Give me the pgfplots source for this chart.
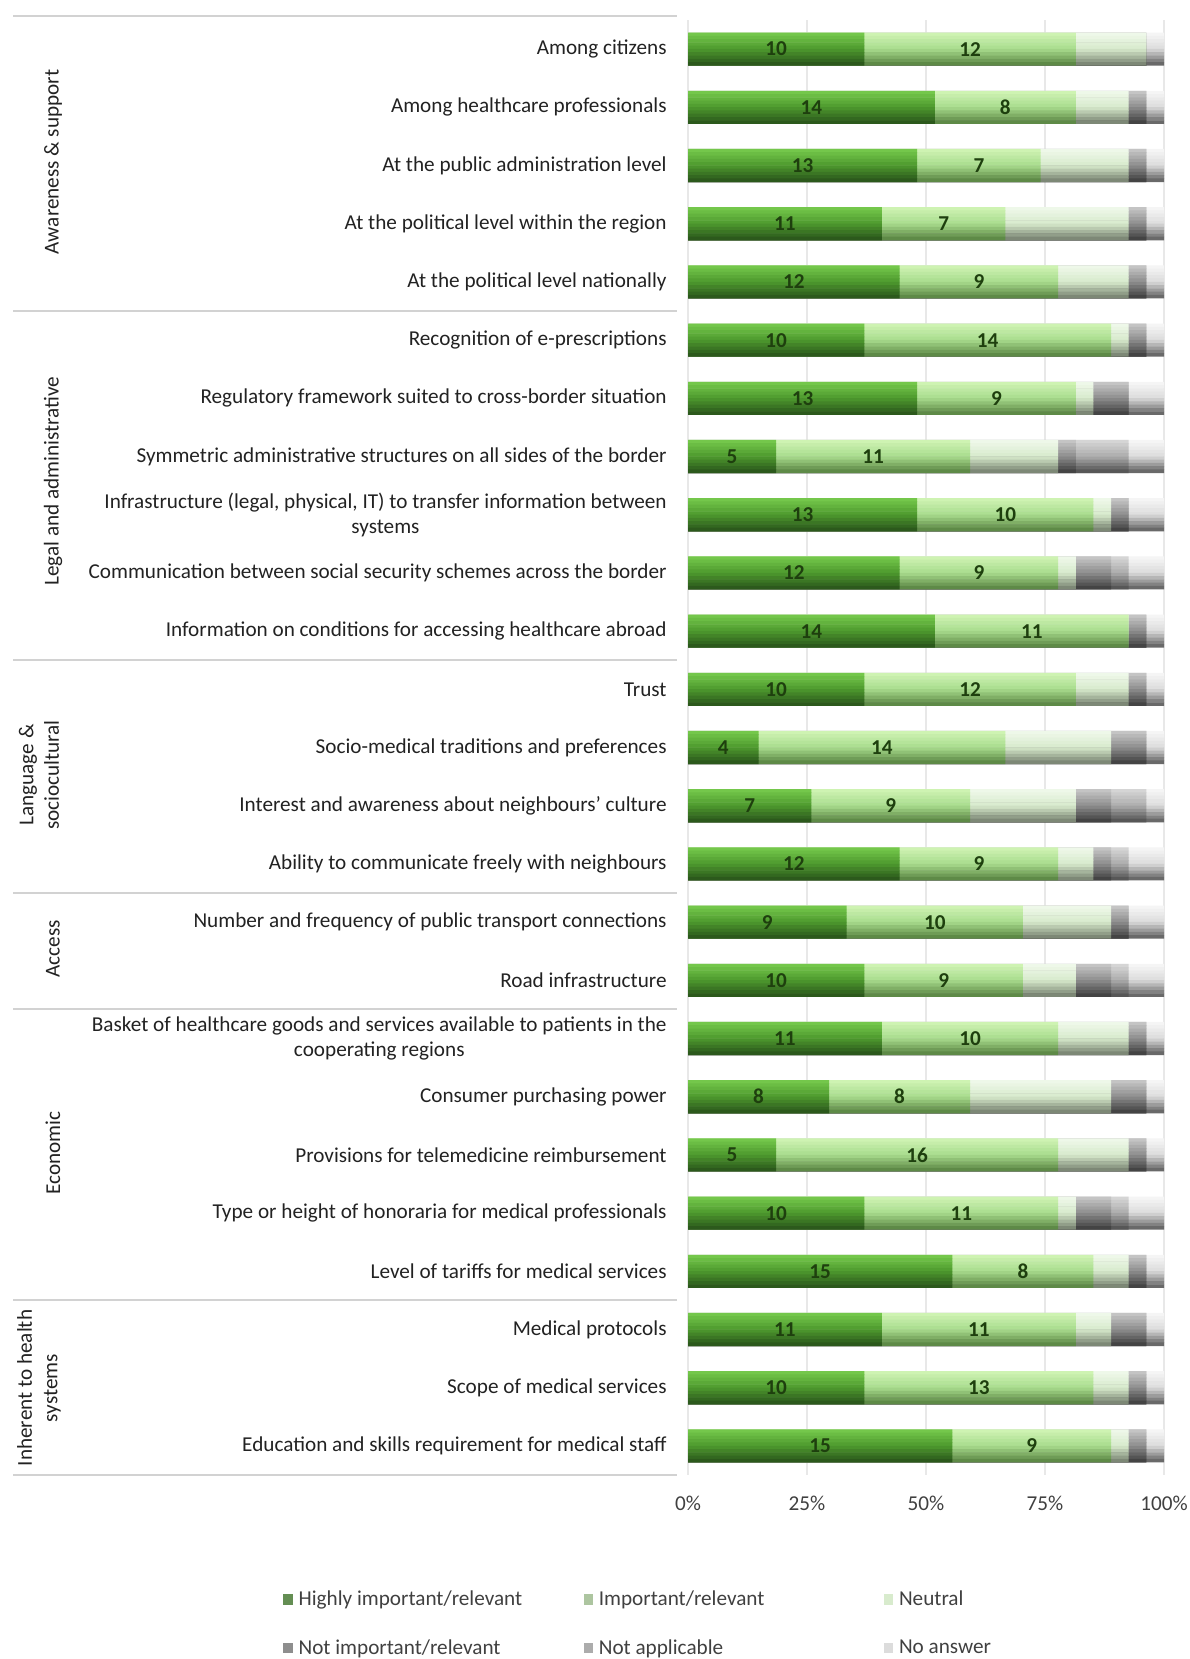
\documentclass[border=0pt]{standalone}
\usepackage{pgfplots}
\usepackage{pgfplotstable}
\pgfplotsset{compat=1.18}
\usepackage{fontspec}
\setmainfont{Carlito}

\definecolor{hiT}{HTML}{78CC4E}\definecolor{hiM}{HTML}{4E9A2E}\definecolor{hiB}{HTML}{28521A}
\definecolor{imT}{HTML}{D2F5B6}\definecolor{imM}{HTML}{A9DC8E}\definecolor{imB}{HTML}{56813F}
\definecolor{neT}{HTML}{F1FAEC}\definecolor{neM}{HTML}{D8EBCD}\definecolor{neB}{HTML}{737D6C}
\definecolor{niT}{HTML}{CACACA}\definecolor{niM}{HTML}{8E8E8E}\definecolor{niB}{HTML}{3C3C3C}
\definecolor{naT}{HTML}{DADADA}\definecolor{naM}{HTML}{ACACAC}\definecolor{naB}{HTML}{4E4E4E}
\definecolor{nrT}{HTML}{F8F8F8}\definecolor{nrM}{HTML}{DCDCDC}\definecolor{nrB}{HTML}{5C5C5C}
\definecolor{numgreen}{HTML}{1E3F0E}
\definecolor{labgray}{HTML}{222222}
\definecolor{tickgray}{HTML}{404040}

\pgfplotstableread{
row h i n ni na nr
0 10 12 4 0 0 1
1 14 8 3 1 0 1
2 13 7 5 1 0 1
3 11 7 7 1 0 1
4 12 9 4 1 0 1
5 10 14 1 1 0 1
6 13 9 1 2 0 2
7 5 11 5 1 3 2
8 13 10 1 1 0 2
9 12 9 1 2 1 2
10 14 11 0 1 0 1
11 10 12 3 1 0 1
12 4 14 6 2 0 1
13 7 9 6 2 2 1
14 12 9 2 1 1 2
15 9 10 5 1 0 2
16 10 9 3 2 1 2
17 11 10 4 1 0 1
18 8 8 8 2 0 1
19 5 16 4 1 0 1
20 10 11 1 2 1 2
21 15 8 2 1 0 1
22 11 11 2 2 0 1
23 10 13 2 1 0 1
24 15 9 1 1 0 1
}\datatable

\newcommand{\lw}[1]{\makebox[141pt][l]{#1}}
\newcommand{\fs}{\fontsize{10.6}{12.7}\selectfont}

% one horizontal strip of every bar of a series (flat colour), bars start at 0
\newcommand{\strip}[3]{%
  \addplot[forget plot, xbar, /pgfplots/bar shift=0pt, bar width=1.8pt, draw=none, fill=#1]
    table[x expr={#3}, y expr={\thisrow{row}+(#2)}] {\datatable};}
% ten strips, light at top, dark at bottom
\newcommand{\segment}[2]{%
  \strip{#1T!90!#1M}{-0.2536}{#2}%
  \strip{#1T!70!#1M}{-0.1973}{#2}%
  \strip{#1T!50!#1M}{-0.1409}{#2}%
  \strip{#1T!30!#1M}{-0.0845}{#2}%
  \strip{#1T!10!#1M}{-0.0282}{#2}%
  \strip{#1M!90!#1B}{0.0282}{#2}%
  \strip{#1M!70!#1B}{0.0845}{#2}%
  \strip{#1M!50!#1B}{0.1409}{#2}%
  \strip{#1M!30!#1B}{0.1973}{#2}%
  \strip{#1M!10!#1B}{0.2536}{#2}%
}

\pgfplotsset{
  lab/.style={
    forget plot, only marks, mark=*, mark size=0pt, mark options={draw=none, fill=none},
    point meta=explicit,
    nodes near coords={\pgfmathprintnumber[assume math mode=true]{\pgfplotspointmeta}},
    every node near coord/.append style={anchor=center, text=numgreen, font=\bfseries\fs},
  },
}

\begin{document}
\begin{tikzpicture}[font=\fs]
\useasboundingbox (0pt,0pt) rectangle (594.5pt,-829.5pt);

% group separators
\foreach \yy in {-8,-155.5,-330,-446.5,-504.5,-650,-737.5}
  \draw[gray!35, line width=0.6pt] (6.5pt,\yy pt) -- (338.5pt,\yy pt);

% group labels
\node[rotate=90, text=labgray] at (26.5pt,-81pt) {Awareness \& support};
\node[rotate=90, text=labgray] at (26.5pt,-240.5pt) {Legal and administrative};
\node[rotate=90, text=labgray, align=center] at (19.5pt,-387.5pt) {Language \&\\sociocultural};
\node[rotate=90, text=labgray] at (26.5pt,-474.5pt) {Access};
\node[rotate=90, text=labgray] at (26.5pt,-576.5pt) {Economic};
\node[rotate=90, text=labgray, align=center] at (19.5pt,-694pt) {Inherent to health\\systems};

\begin{axis}[
  at={(344pt,-10pt)}, anchor=north west,
  scale only axis, width=238pt, height=727.5pt,
  xmin=0, xmax=27, ymin=-0.5, ymax=24.5, y dir=reverse,
  xtick={0,6.75,13.5,20.25,27},
  xticklabels={0\%,25\%,50\%,75\%,100\%},
  xticklabel style={text=tickgray, yshift=-7pt, font=\fs},
  xmajorgrids, grid style={gray!18, line width=0.6pt},
  axis line style={draw=none},
  major tick length=0pt,
  ytick={0,...,24},
  yticklabels={
    {Among citizens},
    {Among healthcare professionals},
    {At the public administration level},
    {At the political level within the region},
    {At the political level nationally},
    {Recognition of e-prescriptions},
    {Regulatory framework suited to cross-border situation},
    {Symmetric administrative structures on all sides of the border},
    {Infrastructure (legal, physical, IT) to transfer information between\\systems},
    {Communication between social security schemes across the border},
    {Information on conditions for accessing healthcare abroad},
    {Trust},
    {Socio-medical traditions and preferences},
    {Interest and awareness about neighbours' culture},
    {Ability to communicate freely with neighbours},
    {Number and frequency of public transport connections},
    {Road infrastructure},
    {Basket of healthcare goods and services available to patients in the\\cooperating regions},
    {Consumer purchasing power},
    {Provisions for telemedicine reimbursement},
    {Type or height of honoraria for medical professionals},
    {Level of tariffs for medical services},
    {Medical protocols},
    {Scope of medical services},
    {Education and skills requirement for medical staff}},
  yticklabel style={anchor=east, align=center, inner sep=0pt, xshift=-10.5pt, text=labgray, font=\fs},
  legend columns=3,
  legend image code/.code={\fill[#1] (0pt,-2.6pt) rectangle (4.6pt,2.6pt);},
  legend style={at={(-0.8508,-0.077)}, anchor=north west, draw=none, fill=none,
    text=tickgray, font=\fs, row sep=12.6pt, column sep=0pt, inner sep=0pt,
    nodes={inner sep=1.5pt},
    /tikz/every odd column/.append style={column sep=1.5pt},
    cells={anchor=west}},
  clip=false,
]
\addlegendimage{draw=none, fill=hiM!55!gray}\addlegendentry{\lw{Highly important/relevant}}
\addlegendimage{draw=none, fill=imM!60!gray!80}\addlegendentry{\lw{Important/relevant}}
\addlegendimage{draw=none, fill=neM}\addlegendentry{\lw{Neutral}}
\addlegendimage{draw=none, fill=niM}\addlegendentry{\lw{Not important/relevant}}
\addlegendimage{draw=none, fill=naM}\addlegendentry{\lw{Not applicable}}
\addlegendimage{draw=none, fill=nrM}\addlegendentry{\lw{No answer}}

% cumulative bars, painted from the longest (No answer) down to the shortest (Highly important)
\segment{nr}{\thisrow{h}+\thisrow{i}+\thisrow{n}+\thisrow{ni}+\thisrow{na}+\thisrow{nr}}
\segment{na}{\thisrow{h}+\thisrow{i}+\thisrow{n}+\thisrow{ni}+\thisrow{na}}
\segment{ni}{\thisrow{h}+\thisrow{i}+\thisrow{n}+\thisrow{ni}}
\segment{ne}{\thisrow{h}+\thisrow{i}+\thisrow{n}}
\segment{im}{\thisrow{h}+\thisrow{i}}
\segment{hi}{\thisrow{h}}

% value labels
\addplot[lab] table[x expr=\thisrow{h}/2, y=row, meta=h] {\datatable};
\addplot[lab] table[x expr=\thisrow{h}+\thisrow{i}/2, y=row, meta=i] {\datatable};
\end{axis}
\end{tikzpicture}
\end{document}
